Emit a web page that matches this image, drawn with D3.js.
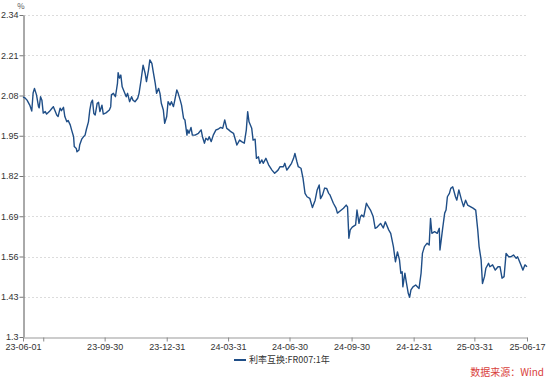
<!DOCTYPE html>
<html>
<head>
<meta charset="utf-8">
<script src="https://cdn.jsdelivr.net/npm/d3@7"></script>
<style>
  body { margin: 0; background: #fff; }
  svg { display: block; font-family: "Noto Sans CJK SC", "Noto Sans", sans-serif; }
  .grid line { stroke: #dcdcdc; stroke-dasharray: 2,2; }
  .tick text { fill: #333; font-size: 9px; }
</style>
</head>
<body>
<div id="app"></div>
<script>
// FR007 1Y swap rate
const dates = [
  '2023-06-01','2023-06-04','2023-06-07','2023-06-11','2023-06-14','2023-06-16','2023-06-18','2023-06-21','2023-06-24','2023-06-25',
  '2023-06-27','2023-06-29','2023-07-01','2023-07-04','2023-07-06','2023-07-10','2023-07-14','2023-07-16','2023-07-18','2023-07-21',
  '2023-07-23','2023-07-26','2023-07-28','2023-07-31','2023-08-02','2023-08-05','2023-08-07','2023-08-10','2023-08-12','2023-08-15',
  '2023-08-16','2023-08-19','2023-08-20','2023-08-23','2023-08-24','2023-08-27','2023-08-29','2023-09-01','2023-09-03','2023-09-06',
  '2023-09-08','2023-09-10','2023-09-12','2023-09-14','2023-09-16','2023-09-19','2023-09-21','2023-09-23','2023-09-26','2023-09-28',
  '2023-10-02','2023-10-07','2023-10-09','2023-10-10','2023-10-13','2023-10-16','2023-10-19','2023-10-20','2023-10-22','2023-10-24',
  '2023-10-26','2023-10-29','2023-11-01','2023-11-03','2023-11-06','2023-11-09','2023-11-11','2023-11-14','2023-11-18','2023-11-20',
  '2023-11-23','2023-11-26','2023-11-29','2023-12-01','2023-12-04','2023-12-06','2023-12-09','2023-12-11','2023-12-14','2023-12-16',
  '2023-12-19','2023-12-21','2023-12-23','2023-12-26','2023-12-28','2023-12-31','2024-01-02','2024-01-05','2024-01-07','2024-01-10',
  '2024-01-12','2024-01-15','2024-01-17','2024-01-20','2024-01-22','2024-01-25','2024-01-27','2024-01-30','2024-01-31','2024-02-02',
  '2024-02-05','2024-02-07','2024-02-11','2024-02-16','2024-02-20','2024-02-22','2024-02-25','2024-02-27','2024-03-01','2024-03-03',
  '2024-03-06','2024-03-09','2024-03-13','2024-03-16','2024-03-20','2024-03-23','2024-03-26','2024-03-29','2024-04-01','2024-04-04',
  '2024-04-08','2024-04-13','2024-04-17','2024-04-20','2024-04-24','2024-04-27','2024-04-29','2024-05-01','2024-05-05','2024-05-07',
  '2024-05-10','2024-05-12','2024-05-15','2024-05-17','2024-05-20','2024-05-22','2024-05-26','2024-05-30','2024-06-04','2024-06-08',
  '2024-06-13','2024-06-16','2024-06-21','2024-06-23','2024-06-26','2024-06-28','2024-07-03','2024-07-06','2024-07-08','2024-07-11',
  '2024-07-13','2024-07-17','2024-07-20','2024-07-23','2024-07-26','2024-07-30','2024-08-03','2024-08-07','2024-08-10','2024-08-13',
  '2024-08-15','2024-08-18','2024-08-21','2024-08-24','2024-08-27','2024-08-29','2024-09-03','2024-09-07','2024-09-09','2024-09-13',
  '2024-09-18','2024-09-22','2024-09-24','2024-09-26','2024-09-28','2024-10-01','2024-10-06','2024-10-08','2024-10-11','2024-10-13',
  '2024-10-15','2024-10-18','2024-10-22','2024-10-25','2024-10-28','2024-11-01','2024-11-04','2024-11-07','2024-11-12','2024-11-16',
  '2024-11-19','2024-11-24','2024-11-27','2024-12-01','2024-12-04','2024-12-07','2024-12-10','2024-12-12','2024-12-14','2024-12-15',
  '2024-12-18','2024-12-20','2024-12-23','2024-12-25','2024-12-27','2024-12-30','2025-01-03','2025-01-08','2025-01-11','2025-01-13',
  '2025-01-16','2025-01-20','2025-01-23','2025-01-25','2025-01-27','2025-01-31','2025-02-04','2025-02-07','2025-02-08','2025-02-12',
  '2025-02-15','2025-02-17','2025-02-19','2025-02-22','2025-02-24','2025-02-27','2025-03-03','2025-03-05','2025-03-08','2025-03-12',
  '2025-03-15','2025-03-18','2025-03-21','2025-03-25','2025-03-29','2025-04-02','2025-04-05','2025-04-07','2025-04-10','2025-04-12',
  '2025-04-15','2025-04-17','2025-04-21','2025-04-23','2025-04-27','2025-05-01','2025-05-05','2025-05-08','2025-05-11','2025-05-14',
  '2025-05-17','2025-05-21','2025-05-24','2025-05-28','2025-06-01','2025-06-03','2025-06-07','2025-06-11','2025-06-14','2025-06-17'
]
const rates = [
  2.075,2.072,2.065,2.049,2.030,2.088,2.103,2.082,2.044,2.040,
  2.076,2.065,2.023,2.028,2.020,2.028,2.039,2.044,2.033,2.017,
  2.012,2.039,2.031,2.042,2.012,1.995,1.999,1.985,1.969,1.947,
  1.915,1.909,1.898,1.904,1.920,1.939,1.945,1.952,1.971,1.995,
  2.033,2.057,2.065,2.022,2.017,2.055,2.058,2.028,2.049,2.020,
  2.024,2.033,2.044,2.082,2.087,2.076,2.119,2.154,2.136,2.146,
  2.108,2.092,2.076,2.087,2.060,2.076,2.065,2.060,2.071,2.087,
  2.130,2.178,2.152,2.125,2.162,2.195,2.184,2.157,2.119,2.087,
  2.103,2.087,2.055,2.033,1.990,2.012,2.060,2.049,2.060,2.044,
  2.065,2.098,2.087,2.065,2.049,2.006,2.001,1.952,1.969,1.958,
  1.977,1.952,1.952,1.958,1.969,1.947,1.926,1.942,1.936,1.947,
  1.931,1.952,1.969,1.971,1.977,1.974,2.001,1.974,1.969,1.963,
  1.958,1.920,1.936,1.931,1.926,1.969,2.028,1.995,1.974,1.936,
  1.939,1.877,1.882,1.861,1.872,1.861,1.877,1.856,1.839,1.829,
  1.839,1.850,1.850,1.861,1.839,1.845,1.861,1.877,1.893,1.866,
  1.850,1.845,1.813,1.764,1.753,1.748,1.718,1.742,1.775,1.791,
  1.747,1.759,1.781,1.780,1.764,1.759,1.732,1.716,1.700,1.707,
  1.716,1.726,1.720,1.619,1.646,1.655,1.662,1.710,1.667,1.688,
  1.694,1.688,1.732,1.720,1.710,1.689,1.651,1.655,1.667,1.652,
  1.672,1.646,1.635,1.592,1.543,1.575,1.549,1.506,1.511,1.462,
  1.506,1.479,1.441,1.428,1.452,1.462,1.468,1.457,1.506,1.570,
  1.592,1.603,1.597,1.683,1.635,1.640,1.635,1.651,1.581,1.651,
  1.700,1.710,1.753,1.764,1.780,1.785,1.753,1.742,1.775,1.742,
  1.721,1.742,1.726,1.721,1.716,1.710,1.646,1.592,1.549,1.473,
  1.495,1.522,1.538,1.527,1.533,1.516,1.527,1.527,1.490,1.495,
  1.570,1.559,1.559,1.565,1.554,1.559,1.538,1.516,1.533,1.527
]
const yTicks = [1.3, 1.43, 1.56, 1.69, 1.82, 1.95, 2.08, 2.21, 2.34]
const xTickDates = ['2023-06-01', '2023-07-01', '2023-09-30', '2023-12-31', '2024-03-31',
  '2024-06-30', '2024-09-30', '2024-12-31', '2025-03-31', '2025-06-17']
const xTickLabels = ['23-06-01', '', '23-09-30', '23-12-31', '24-03-31',
  '24-06-30', '24-09-30', '24-12-31', '25-03-31', '25-06-17']
const seriesName = '利率互换:FR007:1年'
const sourceText = '数据来源：Wind'

const W = 554, H = 381
const M = { left: 23, right: 27, top: 15, bottom: 44 }
const parse = d3.timeParse('%Y-%m-%d')
const data = dates.map((d, i) => ({ date: parse(d), v: rates[i] }))

const svg = d3.select('#app').append('svg')
  .attr('width', W)
  .attr('height', H)

const x = d3.scaleTime()
  .domain([parse(dates[0]), parse(dates[dates.length - 1])])
  .range([M.left, W - M.right])
const y = d3.scaleLinear()
  .domain([1.3, 2.34])
  .range([H - M.bottom, M.top])

// dashed horizontal grid, skip the baseline
svg.append('g').attr('class', 'grid')
  .selectAll('line')
  .data(yTicks.slice(1))
  .join('line')
  .attr('x1', M.left + 1)
  .attr('x2', W - M.right)
  .attr('y1', d => Math.round(y(d)) + 0.5)
  .attr('y2', d => Math.round(y(d)) + 0.5)

// left axis
const yAxis = svg.append('g')
  .attr('transform', `translate(${M.left + 0.5},0)`)
  .call(d3.axisLeft(y).tickValues(yTicks).tickFormat(d => d).tickSize(4).tickSizeOuter(0).tickPadding(1))
yAxis.select('.domain').attr('stroke', '#555')
yAxis.selectAll('.tick line').attr('stroke', '#777')

// bottom axis
const xAxis = svg.append('g')
  .attr('transform', `translate(0,${H - M.bottom + 0.5})`)
  .call(d3.axisBottom(x).tickValues(xTickDates.map(parse))
    .tickFormat((d, i) => xTickLabels[i]).tickSize(4).tickSizeOuter(0).tickPadding(2))
xAxis.select('.domain').attr('stroke', '#999')
xAxis.selectAll('.tick line').attr('stroke', '#888')

// unit label
svg.append('text')
  .attr('x', M.left - 2)
  .attr('y', 9)
  .attr('text-anchor', 'middle')
  .attr('fill', '#555')
  .attr('font-size', 8)
  .text('%')

// the series
const line = d3.line()
  .x(d => x(d.date))
  .y(d => y(d.v))
svg.append('path')
  .datum(data)
  .attr('fill', 'none')
  .attr('stroke', '#1f4e87')
  .attr('stroke-width', 1.4)
  .attr('stroke-linejoin', 'round')
  .attr('d', line)

// legend
const lg = svg.append('g').attr('transform', 'translate(234,360)')
lg.append('line')
  .attr('x1', 0).attr('x2', 12)
  .attr('stroke', '#1f4e87')
  .attr('stroke-width', 2)
lg.append('text')
  .attr('x', 15)
  .attr('dy', '0.35em')
  .attr('font-size', 9)
  .attr('fill', '#333')
  .text(seriesName)

// source note
svg.append('text')
  .attr('x', W - 10)
  .attr('y', 376)
  .attr('text-anchor', 'end')
  .attr('font-size', 10)
  .attr('fill', '#d9413b')
  .text(sourceText)
</script>
</body>
</html>
